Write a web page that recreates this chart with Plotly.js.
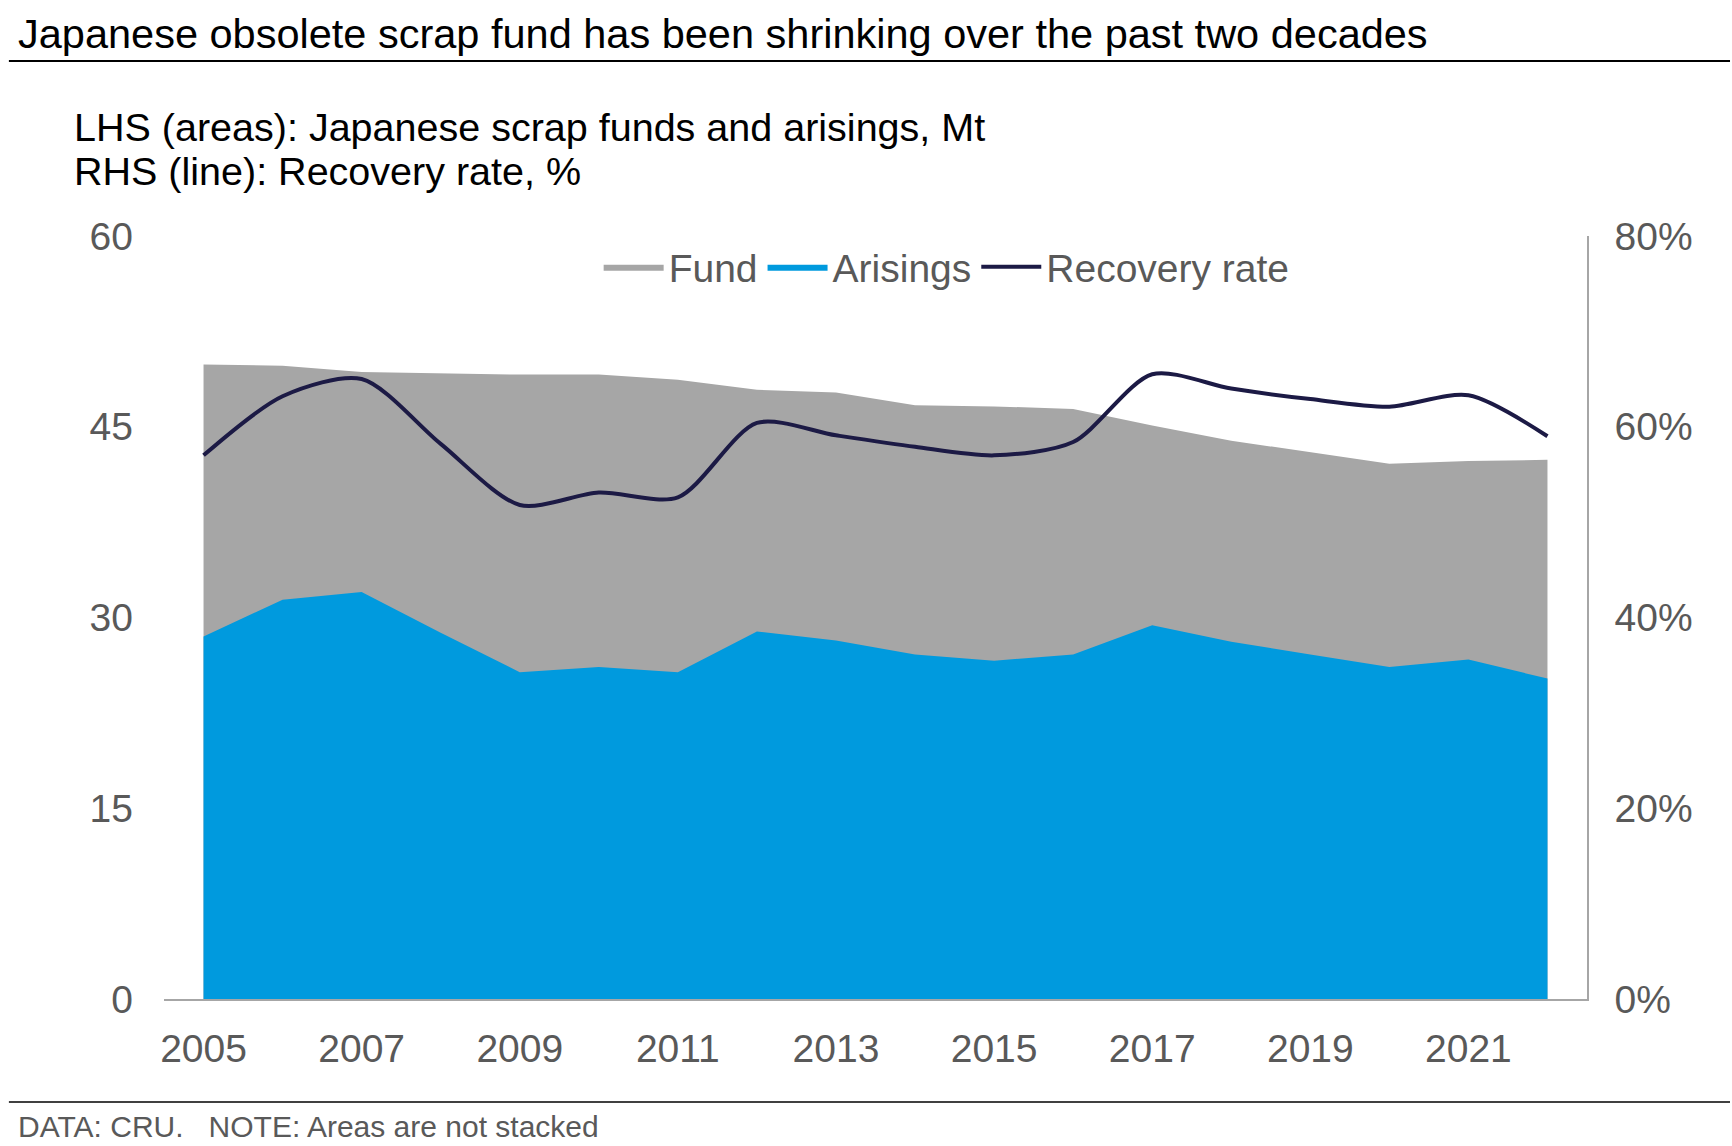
<!DOCTYPE html><html><head><script src="https://cdn.plot.ly/plotly-3.0.1.min.js"></script>
<style>body{margin:0}</style></head><body><div id="c" style="width:1732px;height:1146px"></div><script>
const years=[2005,2006,2007,2008,2009,2010,2011,2012,2013,2014,2015,2016,2017,2018,2019,2020,2021,2022];
const fund=[49.9,49.8,49.3,49.2,49.1,49.1,48.7,47.9,47.7,46.7,46.6,46.4,45.1,43.9,43.0,42.1,42.3,42.4];
const arisings=[28.5,31.4,32.0,28.8,25.7,26.1,25.7,28.9,28.2,27.1,26.6,27.1,29.4,28.1,27.1,26.1,26.7,25.2];
const recovery=[57.0,63.2,65.0,58.2,51.8,53.1,52.6,60.4,59.1,57.9,57.0,58.4,65.5,64.0,62.9,62.1,63.3,59.0];
const rightTicks=['0%','20%','40%','60%','80%'];
const F='Arial, Liberation Sans, sans-serif';
const data=[
{x:years,y:fund,name:'Fund',type:'scatter',mode:'lines',fill:'tozeroy',fillcolor:'#a6a6a6',line:{width:0,color:'#a6a6a6'}},
{x:years,y:arisings,name:'Arisings',type:'scatter',mode:'lines',fill:'tozeroy',fillcolor:'#009ade',line:{width:0,color:'#009ade'}},
{x:years,y:recovery,name:'Recovery rate',type:'scatter',mode:'lines',yaxis:'y2',line:{color:'#1c1a45',width:4,shape:'spline',smoothing:0.8}}
];
const P=y=>(999-y)/763;
const layout={width:1732,height:1146,margin:{l:164,r:145,t:236,b:147},paper_bgcolor:'#fff',plot_bgcolor:'#fff',
font:{family:F,color:'#595959',size:40},
xaxis:{range:[2004.5,2022.5],tickvals:[2005,2007,2009,2011,2013,2015,2017,2019,2021],showgrid:false,zeroline:false,showline:true,linecolor:'#a6a6a6',linewidth:1.5,ticks:'',ticklabelstandoff:14,tickfont:{size:39,color:'#595959'}},
yaxis:{range:[0,60],tickvals:[0,15,30,45,60],showgrid:false,zeroline:false,showline:false,ticks:'',ticklabelstandoff:30,tickfont:{size:39,color:'#595959'}},
yaxis2:{overlaying:'y',side:'right',range:[0,80],tickvals:[0,20,40,60,80],ticktext:rightTicks,showgrid:false,zeroline:false,showline:true,linecolor:'#a6a6a6',linewidth:1.5,ticks:'',ticklabelstandoff:18,tickfont:{size:39,color:'#595959'}},
showlegend:true,
legend:{orientation:'h',x:0.55,xanchor:'center',y:P(267),yanchor:'middle',font:{size:39,color:'#595959'},itemwidth:60,bgcolor:'rgba(0,0,0,0)'},
shapes:[
{type:'line',xref:'paper',yref:'paper',x0:-0.109,x1:1.1005,y0:P(61),y1:P(61),line:{color:'#000',width:2}},
{type:'line',xref:'paper',yref:'paper',x0:-0.109,x1:1.1005,y0:P(1102),y1:P(1102),line:{color:'#000',width:1.5}}
],
annotations:[
{xref:'paper',yref:'paper',x:-0.104,y:P(33),xanchor:'left',yanchor:'middle',showarrow:false,text:'Japanese obsolete scrap fund has been shrinking over the past two decades',font:{size:41.5,color:'#000'}},
{xref:'paper',yref:'paper',x:(72-164)/1423,y:P(127),xanchor:'left',yanchor:'middle',showarrow:false,text:'LHS (areas): Japanese scrap funds and arisings, Mt',font:{size:39.5,color:'#000'}},
{xref:'paper',yref:'paper',x:(72-164)/1423,y:P(171),xanchor:'left',yanchor:'middle',showarrow:false,text:'RHS (line): Recovery rate, %',font:{size:39.5,color:'#000'}},
{xref:'paper',yref:'paper',x:-0.104,y:P(1126),xanchor:'left',yanchor:'middle',showarrow:false,text:'DATA: CRU.   NOTE: Areas are not stacked',font:{size:30,color:'#595959'}}
]};
Plotly.newPlot('c',data,layout,{displayModeBar:false});
</script></body></html>
